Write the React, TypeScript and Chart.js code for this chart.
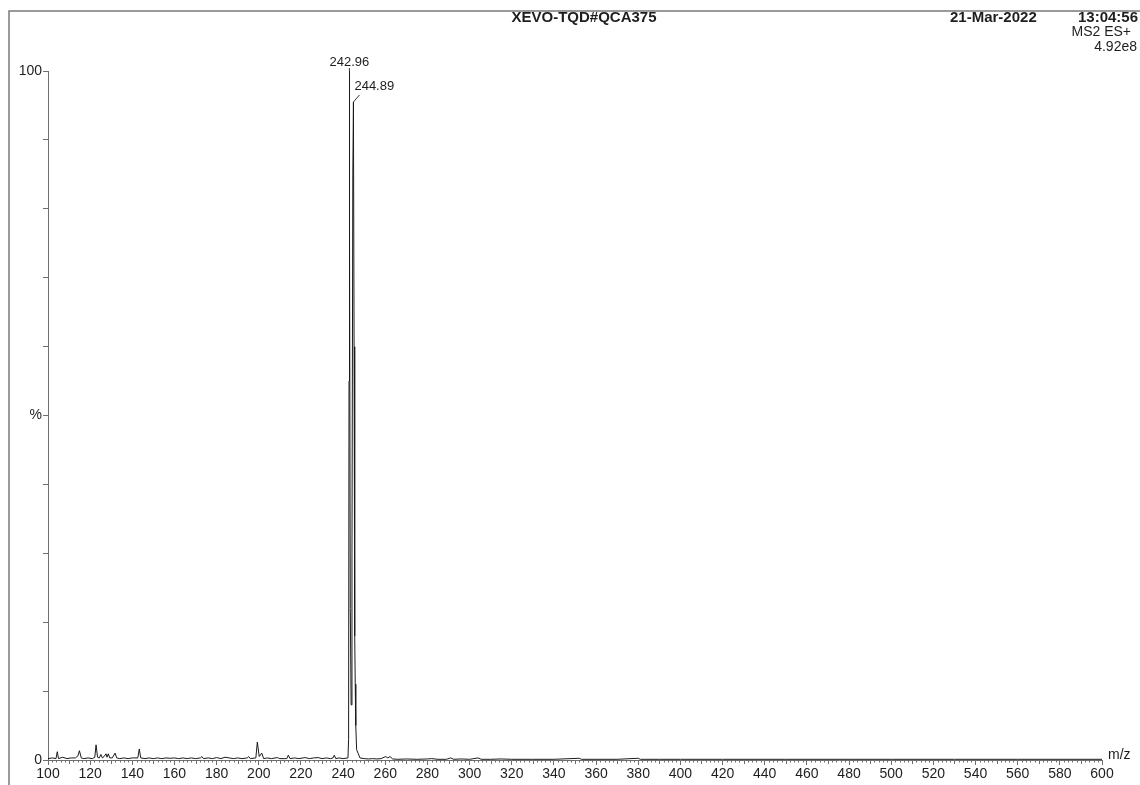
import React, { useEffect, useRef } from "react";
import { Chart, registerables } from "chart.js";

Chart.register(...registerables);

// ---- Data (m/z vs relative intensity %) ----
const mzValues: number[] = [
  100, 102, 103.8, 104.4, 105, 107, 109, 111, 113, 114.2, 114.9, 115.8, 117, 119, 121,
  122.2, 122.8, 123.5, 124.3, 125.1, 125.8, 126.6, 127.5, 128, 128.6, 129.3, 130.5, 131.8,
  132.6, 134, 136, 138, 140, 142.6, 143.3, 144, 146, 148, 150, 152, 154, 156, 158, 160,
  162, 164, 166, 168, 170, 172.3, 173, 173.7, 176, 178, 180, 182, 184, 186, 188, 190, 192,
  194.5, 195.2, 196, 198.6, 199.3, 200.2, 201.4, 202.3, 204, 206, 208.8, 210, 212, 213.3,
  214, 214.8, 217, 219, 222, 224, 226, 228.2, 230, 232, 234, 235.2, 235.8, 236.5, 238, 240,
  242.3, 242.6, 242.8, 242.96, 243.1, 243.4, 243.8, 244.2, 244.6, 244.89, 245.2, 245.5,
  245.75, 246.0, 246.4, 247.2, 248, 250, 252, 254, 256, 258, 260.2, 261.2, 262.2, 263.5,
  266, 270, 275, 280, 282, 285, 289, 291, 292.5, 296, 300, 302, 304, 305.5, 310, 315, 320,
  330, 340, 352, 353, 360, 370, 380, 381, 390, 400, 420, 450, 480, 500, 530, 560, 600,
];
const intensityValues: number[] = [
  0.2, 0.3, 0.2, 1.2, 0.2, 0.4, 0.2, 0.3, 0.3, 0.6, 1.35, 0.3, 0.2, 0.3, 0.2,
  0.4, 2.2, 0.4, 0.3, 0.8, 0.3, 0.5, 0.9, 0.4, 0.9, 0.3, 0.3, 1.0,
  0.3, 0.2, 0.3, 0.2, 0.3, 0.3, 1.6, 0.3, 0.2, 0.3, 0.2, 0.3, 0.2, 0.3, 0.25, 0.3,
  0.2, 0.3, 0.2, 0.3, 0.2, 0.3, 0.5, 0.2, 0.3, 0.2, 0.35, 0.2, 0.4, 0.3, 0.2, 0.3, 0.2,
  0.3, 0.5, 0.2, 0.3, 2.6, 0.5, 1.0, 0.2, 0.3, 0.2, 0.35, 0.2, 0.2, 0.2,
  0.7, 0.2, 0.3, 0.2, 0.35, 0.2, 0.3, 0.35, 0.2, 0.3, 0.2, 0.3, 0.7, 0.2, 0.3, 0.2,
  0.3, 3, 55, 100, 78, 22, 8, 30, 85, 95.5, 60, 18,
  11, 5, 1.5, 0.9, 0.3, 0.2, 0.15, 0.2, 0.15, 0.2, 0.5, 0.3, 0.5, 0.15,
  0.1, 0.15, 0.1, 0.15, 0.2, 0.1, 0.1, 0.3, 0.1, 0.15, 0.1, 0.2, 0.3, 0.1, 0.1, 0.15, 0.1,
  0.1, 0.1, 0.25, 0.1, 0.1, 0.1, 0.25, 0.1, 0.1, 0.1, 0.1, 0.1, 0.1, 0.1, 0.1, 0.1, 0.1,
];

const peakLabelMz: number[] = [242.96, 244.89];
const peakLabelIntensity: number[] = [100, 95.5];
const peakLabelText: string[] = ["242.96", "244.89"];

const yTickText: Record<number, string> = { 0: "0", 50: "%", 100: "100" };

const headerTitle = "XEVO-TQD#QCA375";
const headerDate = "21-Mar-2022";
const headerTime = "13:04:56";
const headerMode = "MS2 ES+";
const headerScale = "4.92e8";
const xAxisTitle = "m/z";

const FONT = '"Liberation Sans", Arial, sans-serif';
const AXIS_COLOR = "#6e6e6e";
const TEXT_COLOR = "#1e1e1e";

const overlayPlugin = {
  id: "overlay",
  afterDraw(chart: any) {
    const { ctx } = chart;
    const xs = chart.scales.x;
    const ys = chart.scales.y;
    ctx.save();

    // outer frame
    ctx.strokeStyle = "#7a7a7a";
    ctx.lineWidth = 1.5;
    ctx.beginPath();
    ctx.moveTo(9, 800);
    ctx.lineTo(9, 11);
    ctx.lineTo(1150, 11);
    ctx.stroke();

    // header
    ctx.fillStyle = TEXT_COLOR;
    ctx.textBaseline = "middle";
    ctx.font = `bold 15px ${FONT}`;
    ctx.textAlign = "center";
    ctx.fillText(headerTitle, 584, 18);
    ctx.textAlign = "left";
    ctx.fillText(headerDate, 950, 18);
    ctx.textAlign = "right";
    ctx.fillText(headerTime, 1138, 18);
    ctx.font = `14px ${FONT}`;
    ctx.fillText(headerMode, 1131, 32);
    ctx.fillText(headerScale, 1137, 47);

    // minor x ticks
    ctx.strokeStyle = AXIS_COLOR;
    ctx.lineWidth = 1;
    ctx.beginPath();
    const y0 = ys.bottom;
    for (let v = xs.min; v <= xs.max; v += 2) {
      if (v % 20 === 0) continue;
      const len = v % 10 === 0 ? 4 : 2.5;
      const px = Math.round(xs.getPixelForValue(v)) + 0.5;
      ctx.moveTo(px, y0);
      ctx.lineTo(px, y0 + len);
    }
    ctx.stroke();

    // x axis title
    ctx.fillStyle = TEXT_COLOR;
    ctx.font = `14px ${FONT}`;
    ctx.textAlign = "left";
    ctx.textBaseline = "middle";
    ctx.fillText(xAxisTitle, xs.right + 6, y0 - 5);

    // peak labels
    ctx.font = `13px ${FONT}`;
    ctx.strokeStyle = "#333";
    ctx.lineWidth = 1;
    peakLabelMz.forEach((mz, i) => {
      const px = xs.getPixelForValue(mz);
      const py = ys.getPixelForValue(peakLabelIntensity[i]);
      ctx.beginPath();
      if (i === 0) {
        ctx.moveTo(px, py);
        ctx.lineTo(px, py - 3);
        ctx.stroke();
        ctx.textAlign = "center";
        ctx.textBaseline = "alphabetic";
        ctx.fillText(peakLabelText[i], px, py - 5);
      } else {
        ctx.moveTo(px, py);
        ctx.lineTo(px + 6, py - 7);
        ctx.stroke();
        ctx.textAlign = "left";
        ctx.textBaseline = "middle";
        ctx.fillText(peakLabelText[i], px + 1, py - 16);
      }
    });

    ctx.restore();
  },
};

export default function App() {
  const canvasRef = useRef<HTMLCanvasElement | null>(null);

  useEffect(() => {
    document.body.style.margin = "0";
    const canvas = canvasRef.current;
    if (!canvas) return;
    const points = mzValues.map((x, i) => ({ x, y: intensityValues[i] }));
    const chart = new Chart(canvas, {
      type: "line",
      data: {
        datasets: [
          {
            data: points,
            borderColor: "#1a1a1a",
            borderWidth: 1,
            pointRadius: 0,
            tension: 0,
            fill: false,
            clip: false as any,
          },
        ],
      },
      options: {
        animation: false,
        responsive: false,
        maintainAspectRatio: false,
        devicePixelRatio: 1,
        layout: { padding: { top: 71, right: 38, left: 0, bottom: 0 } },
        plugins: {
          legend: { display: false },
          tooltip: { enabled: false },
          title: { display: false },
        },
        scales: {
          x: {
            type: "linear",
            min: 100,
            max: 600,
            afterFit: (s: any) => {
              s.height = 25;
            },
            ticks: {
              stepSize: 20,
              autoSkip: false,
              maxRotation: 0,
              padding: 1,
              color: TEXT_COLOR,
              font: { family: FONT, size: 14 },
            },
            grid: {
              drawOnChartArea: false,
              drawTicks: true,
              tickLength: 5,
              color: AXIS_COLOR,
            },
            border: { display: true, color: AXIS_COLOR, width: 1 },
          },
          y: {
            type: "linear",
            min: 0,
            max: 100,
            afterFit: (s: any) => {
              s.width = 48;
            },
            ticks: {
              stepSize: 10,
              autoSkip: false,
              padding: 1,
              color: TEXT_COLOR,
              font: { family: FONT, size: 14 },
              callback: (v: any) => yTickText[v as number] ?? "",
            },
            grid: {
              drawOnChartArea: false,
              drawTicks: true,
              tickLength: 5,
              color: AXIS_COLOR,
            },
            border: { display: true, color: AXIS_COLOR, width: 1 },
          },
        },
      },
      plugins: [overlayPlugin],
    });
    return () => chart.destroy();
  }, []);

  return (
    <div style={{ width: 1140, height: 785, position: "relative", background: "#fff" }}>
      <canvas ref={canvasRef} width={1140} height={785} />
    </div>
  );
}
